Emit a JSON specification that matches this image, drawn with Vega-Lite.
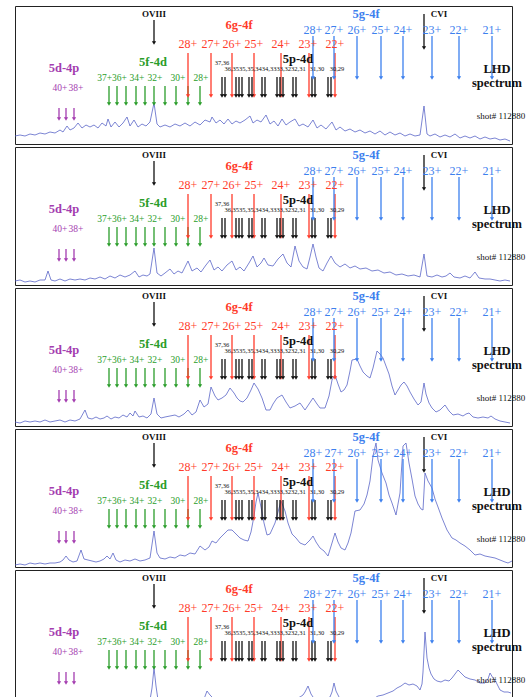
{
"$schema":"https://vega.github.io/schema/vega-lite/v6.json",
"padding":{"left":12,"top":5,"right":0,"bottom":0},
"config":{"view":{"stroke":"#222","strokeWidth":1},"font":"Liberation Serif","text":{"font":"Liberation Serif","baseline":"middle","align":"center"}},
"spacing":1,
"datasets":{
"arrows":[
{"x":59,"top":36,"bot":25,"g":"purple"},{"x":66,"top":36,"bot":25,"g":"purple"},{"x":74,"top":36,"bot":25,"g":"purple"},
{"x":109,"top":58,"bot":40,"g":"green"},{"x":117,"top":58,"bot":40,"g":"green"},{"x":126,"top":58,"bot":40,"g":"green"},{"x":136,"top":58,"bot":40,"g":"green"},{"x":145,"top":58,"bot":40,"g":"green"},{"x":154,"top":58,"bot":40,"g":"green"},{"x":165,"top":58,"bot":40,"g":"green"},{"x":176,"top":58,"bot":40,"g":"green"},{"x":188,"top":58,"bot":40,"g":"green"},{"x":200,"top":58,"bot":40,"g":"green"},
{"x":154,"top":124,"bot":101,"g":"black"},
{"x":188,"top":91,"bot":48,"g":"red"},{"x":211,"top":91,"bot":48,"g":"red"},{"x":232,"top":91,"bot":48,"g":"red"},{"x":254,"top":91,"bot":48,"g":"red"},{"x":281,"top":91,"bot":48,"g":"red"},{"x":309,"top":91,"bot":48,"g":"red"},{"x":335,"top":91,"bot":48,"g":"red"},
{"x":222,"top":67,"bot":48,"g":"black"},{"x":225,"top":67,"bot":48,"g":"black"},{"x":236,"top":67,"bot":48,"g":"black"},{"x":239,"top":67,"bot":48,"g":"black"},{"x":242,"top":67,"bot":48,"g":"black"},{"x":249,"top":67,"bot":48,"g":"black"},{"x":252,"top":67,"bot":48,"g":"black"},{"x":262,"top":67,"bot":48,"g":"black"},{"x":265,"top":67,"bot":48,"g":"black"},{"x":277,"top":67,"bot":48,"g":"black"},{"x":280,"top":67,"bot":48,"g":"black"},{"x":283,"top":67,"bot":48,"g":"black"},{"x":293,"top":67,"bot":48,"g":"black"},{"x":296,"top":67,"bot":48,"g":"black"},{"x":312,"top":67,"bot":48,"g":"black"},{"x":315,"top":67,"bot":48,"g":"black"},{"x":328,"top":67,"bot":48,"g":"black"},{"x":331,"top":67,"bot":48,"g":"black"},
{"x":313,"top":108,"bot":66,"g":"blue"},{"x":334,"top":108,"bot":66,"g":"blue"},{"x":357,"top":108,"bot":66,"g":"blue"},{"x":381,"top":108,"bot":66,"g":"blue"},{"x":403,"top":108,"bot":66,"g":"blue"},{"x":432,"top":108,"bot":66,"g":"blue"},{"x":459,"top":108,"bot":66,"g":"blue"},{"x":492,"top":108,"bot":66,"g":"blue"},
{"x":424,"top":130,"bot":96,"g":"black"}
],
"texts":[
{"t":"OVIII","x":154,"y":130,"g":"black","k":"ion"},
{"t":"CVI","x":439,"y":130,"g":"black","k":"ion"},
{"t":"6g-4f","x":239,"y":119,"g":"red","k":"band"},
{"t":"5f-4d","x":153,"y":82,"g":"green","k":"band"},
{"t":"5d-4p","x":64,"y":76,"g":"purple","k":"band"},
{"t":"5g-4f","x":366,"y":130,"g":"blue","k":"band"},
{"t":"5p-4d","x":298,"y":85,"g":"black","k":"band"},
{"t":"LHD","x":497,"y":75,"g":"black","k":"band"},
{"t":"spectrum","x":497,"y":61,"g":"black","k":"band"},
{"t":"28+","x":188,"y":100,"g":"red","k":"big"},{"t":"27+","x":211,"y":100,"g":"red","k":"big"},{"t":"26+","x":232,"y":100,"g":"red","k":"big"},{"t":"25+","x":254,"y":100,"g":"red","k":"big"},{"t":"24+","x":281,"y":100,"g":"red","k":"big"},{"t":"23+","x":308,"y":100,"g":"red","k":"big"},{"t":"22+","x":335,"y":100,"g":"red","k":"big"},
{"t":"28+","x":313,"y":114,"g":"blue","k":"big"},{"t":"27+","x":334,"y":114,"g":"blue","k":"big"},{"t":"26+","x":357,"y":114,"g":"blue","k":"big"},{"t":"25+","x":381,"y":114,"g":"blue","k":"big"},{"t":"24+","x":403,"y":114,"g":"blue","k":"big"},{"t":"23+","x":432,"y":114,"g":"blue","k":"big"},{"t":"22+","x":459,"y":114,"g":"blue","k":"big"},{"t":"21+","x":492,"y":114,"g":"blue","k":"big"},
{"t":"37+36+","x":112,"y":66,"g":"green","k":"mid"},{"t":"34+","x":137,"y":66,"g":"green","k":"mid"},{"t":"32+","x":155,"y":66,"g":"green","k":"mid"},{"t":"30+","x":178,"y":66,"g":"green","k":"mid"},{"t":"28+","x":201,"y":66,"g":"green","k":"mid"},
{"t":"40+","x":60,"y":56,"g":"purple","k":"mid"},{"t":"38+","x":76,"y":56,"g":"purple","k":"mid"},
{"t":"37,36","x":222,"y":81,"g":"black","k":"small"},{"t":"36,3535,35,3434,3333,3232,31","x":265,"y":75,"g":"black","k":"small"},{"t":"31,30","x":317,"y":75,"g":"black","k":"small"},{"t":"30,29","x":337,"y":75,"g":"black","k":"small"},
{"t":"shot# 112880","x":501,"y":28,"g":"black","k":"shot"}
],
"spec":[
{"p":1,"x":15,"y":8},{"p":1,"x":20,"y":9},{"p":1,"x":25,"y":8},{"p":1,"x":30,"y":10},{"p":1,"x":35,"y":9},{"p":1,"x":40,"y":11},{"p":1,"x":45,"y":10},{"p":1,"x":50,"y":12},{"p":1,"x":55,"y":11},{"p":1,"x":60,"y":14},{"p":1,"x":63,"y":12},{"p":1,"x":67,"y":18},{"p":1,"x":70,"y":14},{"p":1,"x":74,"y":16},{"p":1,"x":78,"y":21},{"p":1,"x":82,"y":16},{"p":1,"x":86,"y":19},{"p":1,"x":90,"y":17},{"p":1,"x":94,"y":19},{"p":1,"x":98,"y":16},{"p":1,"x":102,"y":21},{"p":1,"x":106,"y":18},{"p":1,"x":108,"y":25},{"p":1,"x":111,"y":17},{"p":1,"x":115,"y":22},{"p":1,"x":119,"y":17},{"p":1,"x":123,"y":21},{"p":1,"x":127,"y":27},{"p":1,"x":130,"y":18},{"p":1,"x":134,"y":24},{"p":1,"x":138,"y":17},{"p":1,"x":142,"y":20},{"p":1,"x":146,"y":18},{"p":1,"x":150,"y":22},{"p":1,"x":154,"y":41},{"p":1,"x":157,"y":20},{"p":1,"x":160,"y":17},{"p":1,"x":165,"y":19},{"p":1,"x":170,"y":17},{"p":1,"x":175,"y":20},{"p":1,"x":180,"y":18},{"p":1,"x":185,"y":21},{"p":1,"x":190,"y":18},{"p":1,"x":195,"y":22},{"p":1,"x":200,"y":19},{"p":1,"x":205,"y":24},{"p":1,"x":210,"y":22},{"p":1,"x":212,"y":27},{"p":1,"x":216,"y":21},{"p":1,"x":220,"y":24},{"p":1,"x":224,"y":20},{"p":1,"x":228,"y":25},{"p":1,"x":232,"y":20},{"p":1,"x":236,"y":23},{"p":1,"x":240,"y":21},{"p":1,"x":245,"y":24},{"p":1,"x":250,"y":28},{"p":1,"x":253,"y":21},{"p":1,"x":257,"y":24},{"p":1,"x":261,"y":22},{"p":1,"x":266,"y":29},{"p":1,"x":270,"y":20},{"p":1,"x":274,"y":23},{"p":1,"x":278,"y":18},{"p":1,"x":282,"y":25},{"p":1,"x":286,"y":19},{"p":1,"x":290,"y":22},{"p":1,"x":295,"y":25},{"p":1,"x":299,"y":18},{"p":1,"x":303,"y":20},{"p":1,"x":308,"y":17},{"p":1,"x":313,"y":24},{"p":1,"x":317,"y":16},{"p":1,"x":321,"y":19},{"p":1,"x":326,"y":15},{"p":1,"x":332,"y":22},{"p":1,"x":336,"y":14},{"p":1,"x":340,"y":17},{"p":1,"x":345,"y":13},{"p":1,"x":350,"y":15},{"p":1,"x":355,"y":12},{"p":1,"x":360,"y":14},{"p":1,"x":365,"y":11},{"p":1,"x":370,"y":13},{"p":1,"x":375,"y":10},{"p":1,"x":380,"y":13},{"p":1,"x":385,"y":9},{"p":1,"x":390,"y":12},{"p":1,"x":395,"y":9},{"p":1,"x":400,"y":11},{"p":1,"x":405,"y":8},{"p":1,"x":410,"y":10},{"p":1,"x":415,"y":8},{"p":1,"x":420,"y":9},{"p":1,"x":424,"y":38},{"p":1,"x":427,"y":10},{"p":1,"x":430,"y":8},{"p":1,"x":435,"y":10},{"p":1,"x":440,"y":7},{"p":1,"x":445,"y":9},{"p":1,"x":450,"y":7},{"p":1,"x":455,"y":10},{"p":1,"x":460,"y":6},{"p":1,"x":465,"y":8},{"p":1,"x":470,"y":6},{"p":1,"x":475,"y":8},{"p":1,"x":480,"y":5},{"p":1,"x":485,"y":7},{"p":1,"x":490,"y":5},{"p":1,"x":495,"y":6},{"p":1,"x":500,"y":4},{"p":1,"x":505,"y":5},{"p":1,"x":510,"y":3},
{"p":2,"x":15,"y":4},{"p":2,"x":20,"y":5},{"p":2,"x":25,"y":3},{"p":2,"x":30,"y":4},{"p":2,"x":35,"y":3},{"p":2,"x":40,"y":5},{"p":2,"x":45,"y":5},{"p":2,"x":48,"y":14},{"p":2,"x":51,"y":5},{"p":2,"x":55,"y":4},{"p":2,"x":60,"y":6},{"p":2,"x":65,"y":4},{"p":2,"x":70,"y":6},{"p":2,"x":75,"y":5},{"p":2,"x":80,"y":6},{"p":2,"x":85,"y":5},{"p":2,"x":90,"y":7},{"p":2,"x":95,"y":6},{"p":2,"x":100,"y":8},{"p":2,"x":105,"y":6},{"p":2,"x":110,"y":9},{"p":2,"x":115,"y":7},{"p":2,"x":120,"y":10},{"p":2,"x":125,"y":8},{"p":2,"x":130,"y":10},{"p":2,"x":135,"y":14},{"p":2,"x":139,"y":8},{"p":2,"x":143,"y":10},{"p":2,"x":147,"y":9},{"p":2,"x":150,"y":11},{"p":2,"x":154,"y":37},{"p":2,"x":157,"y":12},{"p":2,"x":161,"y":9},{"p":2,"x":165,"y":12},{"p":2,"x":170,"y":16},{"p":2,"x":174,"y":11},{"p":2,"x":178,"y":14},{"p":2,"x":182,"y":12},{"p":2,"x":188,"y":24},{"p":2,"x":192,"y":14},{"p":2,"x":197,"y":17},{"p":2,"x":201,"y":13},{"p":2,"x":206,"y":20},{"p":2,"x":210,"y":25},{"p":2,"x":214,"y":15},{"p":2,"x":218,"y":18},{"p":2,"x":222,"y":14},{"p":2,"x":227,"y":20},{"p":2,"x":232,"y":24},{"p":2,"x":236,"y":15},{"p":2,"x":240,"y":18},{"p":2,"x":244,"y":14},{"p":2,"x":249,"y":22},{"p":2,"x":253,"y":29},{"p":2,"x":257,"y":18},{"p":2,"x":261,"y":22},{"p":2,"x":264,"y":27},{"p":2,"x":268,"y":20},{"p":2,"x":273,"y":19},{"p":2,"x":278,"y":26},{"p":2,"x":283,"y":31},{"p":2,"x":287,"y":22},{"p":2,"x":291,"y":18},{"p":2,"x":295,"y":39},{"p":2,"x":299,"y":24},{"p":2,"x":303,"y":18},{"p":2,"x":307,"y":16},{"p":2,"x":310,"y":28},{"p":2,"x":313,"y":41},{"p":2,"x":316,"y":28},{"p":2,"x":319,"y":17},{"p":2,"x":323,"y":14},{"p":2,"x":327,"y":22},{"p":2,"x":331,"y":29},{"p":2,"x":335,"y":22},{"p":2,"x":340,"y":18},{"p":2,"x":345,"y":21},{"p":2,"x":350,"y":17},{"p":2,"x":355,"y":19},{"p":2,"x":360,"y":16},{"p":2,"x":366,"y":17},{"p":2,"x":372,"y":14},{"p":2,"x":378,"y":15},{"p":2,"x":384,"y":12},{"p":2,"x":390,"y":13},{"p":2,"x":396,"y":10},{"p":2,"x":402,"y":11},{"p":2,"x":408,"y":9},{"p":2,"x":414,"y":10},{"p":2,"x":420,"y":8},{"p":2,"x":424,"y":31},{"p":2,"x":427,"y":9},{"p":2,"x":432,"y":8},{"p":2,"x":437,"y":10},{"p":2,"x":442,"y":8},{"p":2,"x":446,"y":9},{"p":2,"x":450,"y":12},{"p":2,"x":454,"y":8},{"p":2,"x":460,"y":7},{"p":2,"x":465,"y":9},{"p":2,"x":470,"y":7},{"p":2,"x":475,"y":13},{"p":2,"x":479,"y":7},{"p":2,"x":485,"y":6},{"p":2,"x":490,"y":6},{"p":2,"x":495,"y":5},{"p":2,"x":500,"y":4},{"p":2,"x":505,"y":5},{"p":2,"x":510,"y":4},
{"p":3,"x":15,"y":4},{"p":3,"x":20,"y":3},{"p":3,"x":25,"y":5},{"p":3,"x":30,"y":4},{"p":3,"x":35,"y":5},{"p":3,"x":40,"y":4},{"p":3,"x":45,"y":6},{"p":3,"x":50,"y":4},{"p":3,"x":55,"y":5},{"p":3,"x":60,"y":6},{"p":3,"x":65,"y":4},{"p":3,"x":70,"y":6},{"p":3,"x":75,"y":5},{"p":3,"x":80,"y":7},{"p":3,"x":85,"y":16},{"p":3,"x":88,"y":8},{"p":3,"x":92,"y":7},{"p":3,"x":96,"y":9},{"p":3,"x":100,"y":7},{"p":3,"x":104,"y":8},{"p":3,"x":107,"y":10},{"p":3,"x":111,"y":7},{"p":3,"x":115,"y":9},{"p":3,"x":119,"y":8},{"p":3,"x":123,"y":11},{"p":3,"x":127,"y":9},{"p":3,"x":130,"y":13},{"p":3,"x":133,"y":10},{"p":3,"x":135,"y":15},{"p":3,"x":139,"y":9},{"p":3,"x":143,"y":10},{"p":3,"x":147,"y":8},{"p":3,"x":151,"y":12},{"p":3,"x":154,"y":28},{"p":3,"x":157,"y":12},{"p":3,"x":161,"y":8},{"p":3,"x":165,"y":9},{"p":3,"x":170,"y":10},{"p":3,"x":175,"y":11},{"p":3,"x":179,"y":9},{"p":3,"x":184,"y":12},{"p":3,"x":188,"y":16},{"p":3,"x":192,"y":11},{"p":3,"x":196,"y":14},{"p":3,"x":200,"y":26},{"p":3,"x":204,"y":19},{"p":3,"x":208,"y":22},{"p":3,"x":211,"y":39},{"p":3,"x":215,"y":30},{"p":3,"x":218,"y":26},{"p":3,"x":222,"y":28},{"p":3,"x":226,"y":31},{"p":3,"x":230,"y":38},{"p":3,"x":234,"y":33},{"p":3,"x":237,"y":28},{"p":3,"x":240,"y":25},{"p":3,"x":243,"y":24},{"p":3,"x":247,"y":28},{"p":3,"x":251,"y":36},{"p":3,"x":254,"y":43},{"p":3,"x":258,"y":37},{"p":3,"x":262,"y":28},{"p":3,"x":266,"y":16},{"p":3,"x":270,"y":16},{"p":3,"x":273,"y":22},{"p":3,"x":277,"y":28},{"p":3,"x":282,"y":31},{"p":3,"x":286,"y":24},{"p":3,"x":290,"y":18},{"p":3,"x":295,"y":20},{"p":3,"x":300,"y":23},{"p":3,"x":305,"y":16},{"p":3,"x":309,"y":22},{"p":3,"x":313,"y":28},{"p":3,"x":317,"y":22},{"p":3,"x":320,"y":18},{"p":3,"x":325,"y":18},{"p":3,"x":329,"y":30},{"p":3,"x":332,"y":46},{"p":3,"x":335,"y":51},{"p":3,"x":338,"y":42},{"p":3,"x":341,"y":34},{"p":3,"x":344,"y":36},{"p":3,"x":347,"y":41},{"p":3,"x":350,"y":55},{"p":3,"x":352,"y":66},{"p":3,"x":357,"y":67},{"p":3,"x":360,"y":60},{"p":3,"x":363,"y":54},{"p":3,"x":367,"y":50},{"p":3,"x":370,"y":48},{"p":3,"x":373,"y":58},{"p":3,"x":377,"y":75},{"p":3,"x":380,"y":72},{"p":3,"x":383,"y":68},{"p":3,"x":386,"y":60},{"p":3,"x":389,"y":52},{"p":3,"x":392,"y":40},{"p":3,"x":395,"y":31},{"p":3,"x":398,"y":36},{"p":3,"x":401,"y":41},{"p":3,"x":404,"y":44},{"p":3,"x":407,"y":40},{"p":3,"x":410,"y":34},{"p":3,"x":414,"y":27},{"p":3,"x":418,"y":21},{"p":3,"x":421,"y":24},{"p":3,"x":424,"y":43},{"p":3,"x":426,"y":32},{"p":3,"x":429,"y":23},{"p":3,"x":432,"y":18},{"p":3,"x":436,"y":14},{"p":3,"x":440,"y":16},{"p":3,"x":445,"y":21},{"p":3,"x":449,"y":15},{"p":3,"x":453,"y":11},{"p":3,"x":458,"y":12},{"p":3,"x":463,"y":10},{"p":3,"x":466,"y":12},{"p":3,"x":469,"y":13},{"p":3,"x":473,"y":9},{"p":3,"x":478,"y":8},{"p":3,"x":483,"y":9},{"p":3,"x":488,"y":8},{"p":3,"x":491,"y":10},{"p":3,"x":495,"y":7},{"p":3,"x":500,"y":5},{"p":3,"x":505,"y":4},{"p":3,"x":510,"y":3},
{"p":4,"x":15,"y":2},{"p":4,"x":20,"y":3},{"p":4,"x":25,"y":2},{"p":4,"x":30,"y":4},{"p":4,"x":35,"y":3},{"p":4,"x":40,"y":4},{"p":4,"x":45,"y":3},{"p":4,"x":50,"y":4},{"p":4,"x":55,"y":4},{"p":4,"x":60,"y":5},{"p":4,"x":63,"y":7},{"p":4,"x":66,"y":11},{"p":4,"x":69,"y":7},{"p":4,"x":73,"y":5},{"p":4,"x":77,"y":6},{"p":4,"x":81,"y":17},{"p":4,"x":84,"y":8},{"p":4,"x":88,"y":7},{"p":4,"x":92,"y":6},{"p":4,"x":96,"y":5},{"p":4,"x":100,"y":6},{"p":4,"x":104,"y":8},{"p":4,"x":107,"y":11},{"p":4,"x":110,"y":8},{"p":4,"x":113,"y":14},{"p":4,"x":116,"y":7},{"p":4,"x":120,"y":5},{"p":4,"x":125,"y":7},{"p":4,"x":130,"y":6},{"p":4,"x":135,"y":8},{"p":4,"x":140,"y":6},{"p":4,"x":145,"y":7},{"p":4,"x":150,"y":9},{"p":4,"x":154,"y":36},{"p":4,"x":157,"y":14},{"p":4,"x":160,"y":9},{"p":4,"x":165,"y":8},{"p":4,"x":170,"y":10},{"p":4,"x":175,"y":9},{"p":4,"x":180,"y":12},{"p":4,"x":185,"y":11},{"p":4,"x":190,"y":14},{"p":4,"x":195,"y":13},{"p":4,"x":200,"y":21},{"p":4,"x":205,"y":17},{"p":4,"x":209,"y":20},{"p":4,"x":212,"y":26},{"p":4,"x":216,"y":24},{"p":4,"x":220,"y":29},{"p":4,"x":224,"y":33},{"p":4,"x":228,"y":37},{"p":4,"x":232,"y":37},{"p":4,"x":236,"y":33},{"p":4,"x":240,"y":29},{"p":4,"x":244,"y":27},{"p":4,"x":248,"y":26},{"p":4,"x":251,"y":35},{"p":4,"x":254,"y":51},{"p":4,"x":256,"y":65},{"p":4,"x":258,"y":74},{"p":4,"x":261,"y":60},{"p":4,"x":264,"y":44},{"p":4,"x":267,"y":32},{"p":4,"x":270,"y":33},{"p":4,"x":275,"y":44},{"p":4,"x":278,"y":55},{"p":4,"x":281,"y":66},{"p":4,"x":285,"y":56},{"p":4,"x":288,"y":44},{"p":4,"x":292,"y":33},{"p":4,"x":296,"y":29},{"p":4,"x":300,"y":24},{"p":4,"x":305,"y":22},{"p":4,"x":310,"y":27},{"p":4,"x":313,"y":31},{"p":4,"x":316,"y":25},{"p":4,"x":320,"y":19},{"p":4,"x":324,"y":16},{"p":4,"x":328,"y":11},{"p":4,"x":332,"y":24},{"p":4,"x":335,"y":34},{"p":4,"x":338,"y":25},{"p":4,"x":341,"y":19},{"p":4,"x":345,"y":17},{"p":4,"x":348,"y":24},{"p":4,"x":351,"y":34},{"p":4,"x":355,"y":56},{"p":4,"x":360,"y":57},{"p":4,"x":364,"y":63},{"p":4,"x":367,"y":72},{"p":4,"x":370,"y":86},{"p":4,"x":373,"y":111},{"p":4,"x":376,"y":124},{"p":4,"x":378,"y":107},{"p":4,"x":382,"y":94},{"p":4,"x":386,"y":84},{"p":4,"x":389,"y":72},{"p":4,"x":392,"y":64},{"p":4,"x":396,"y":52},{"p":4,"x":400,"y":74},{"p":4,"x":403,"y":121},{"p":4,"x":406,"y":124},{"p":4,"x":409,"y":104},{"p":4,"x":412,"y":88},{"p":4,"x":415,"y":71},{"p":4,"x":418,"y":63},{"p":4,"x":421,"y":58},{"p":4,"x":423,"y":57},{"p":4,"x":425,"y":94},{"p":4,"x":428,"y":86},{"p":4,"x":432,"y":79},{"p":4,"x":435,"y":68},{"p":4,"x":438,"y":60},{"p":4,"x":442,"y":49},{"p":4,"x":447,"y":37},{"p":4,"x":452,"y":29},{"p":4,"x":456,"y":27},{"p":4,"x":460,"y":24},{"p":4,"x":465,"y":21},{"p":4,"x":470,"y":17},{"p":4,"x":475,"y":12},{"p":4,"x":480,"y":13},{"p":4,"x":485,"y":11},{"p":4,"x":490,"y":10},{"p":4,"x":495,"y":9},{"p":4,"x":500,"y":7},{"p":4,"x":505,"y":5},{"p":4,"x":508,"y":4},{"p":4,"x":512,"y":6},
{"p":5,"x":15,"y":2},{"p":5,"x":20,"y":3},{"p":5,"x":25,"y":2},{"p":5,"x":30,"y":3},{"p":5,"x":35,"y":2},{"p":5,"x":40,"y":4},{"p":5,"x":45,"y":3},{"p":5,"x":50,"y":4},{"p":5,"x":55,"y":3},{"p":5,"x":60,"y":5},{"p":5,"x":63,"y":6},{"p":5,"x":65,"y":9},{"p":5,"x":67,"y":7},{"p":5,"x":70,"y":5},{"p":5,"x":75,"y":4},{"p":5,"x":80,"y":3},{"p":5,"x":85,"y":5},{"p":5,"x":90,"y":6},{"p":5,"x":95,"y":4},{"p":5,"x":100,"y":3},{"p":5,"x":104,"y":5},{"p":5,"x":108,"y":6},{"p":5,"x":111,"y":7},{"p":5,"x":113,"y":10},{"p":5,"x":116,"y":6},{"p":5,"x":120,"y":3},{"p":5,"x":125,"y":4},{"p":5,"x":130,"y":4},{"p":5,"x":135,"y":3},{"p":5,"x":140,"y":4},{"p":5,"x":145,"y":4},{"p":5,"x":150,"y":8},{"p":5,"x":152,"y":20},{"p":5,"x":154,"y":40},{"p":5,"x":156,"y":22},{"p":5,"x":158,"y":8},{"p":5,"x":162,"y":4},{"p":5,"x":165,"y":3},{"p":5,"x":170,"y":4},{"p":5,"x":175,"y":3},{"p":5,"x":180,"y":4},{"p":5,"x":185,"y":3},{"p":5,"x":190,"y":4},{"p":5,"x":195,"y":5},{"p":5,"x":200,"y":6},{"p":5,"x":204,"y":9},{"p":5,"x":207,"y":17},{"p":5,"x":210,"y":13},{"p":5,"x":213,"y":10},{"p":5,"x":216,"y":7},{"p":5,"x":220,"y":6},{"p":5,"x":225,"y":5},{"p":5,"x":230,"y":5},{"p":5,"x":235,"y":4},{"p":5,"x":240,"y":4},{"p":5,"x":245,"y":6},{"p":5,"x":250,"y":8},{"p":5,"x":255,"y":7},{"p":5,"x":260,"y":6},{"p":5,"x":265,"y":6},{"p":5,"x":270,"y":7},{"p":5,"x":275,"y":8},{"p":5,"x":280,"y":10},{"p":5,"x":285,"y":8},{"p":5,"x":290,"y":9},{"p":5,"x":295,"y":9},{"p":5,"x":300,"y":11},{"p":5,"x":303,"y":13},{"p":5,"x":305,"y":16},{"p":5,"x":308,"y":22},{"p":5,"x":311,"y":14},{"p":5,"x":315,"y":8},{"p":5,"x":320,"y":6},{"p":5,"x":325,"y":8},{"p":5,"x":330,"y":11},{"p":5,"x":332,"y":16},{"p":5,"x":334,"y":25},{"p":5,"x":336,"y":17},{"p":5,"x":339,"y":11},{"p":5,"x":343,"y":7},{"p":5,"x":348,"y":6},{"p":5,"x":353,"y":8},{"p":5,"x":358,"y":7},{"p":5,"x":363,"y":9},{"p":5,"x":368,"y":10},{"p":5,"x":373,"y":9},{"p":5,"x":378,"y":12},{"p":5,"x":383,"y":13},{"p":5,"x":388,"y":15},{"p":5,"x":393,"y":17},{"p":5,"x":397,"y":20},{"p":5,"x":401,"y":22},{"p":5,"x":405,"y":25},{"p":5,"x":409,"y":23},{"p":5,"x":413,"y":24},{"p":5,"x":417,"y":22},{"p":5,"x":420,"y":18},{"p":5,"x":422,"y":24},{"p":5,"x":423,"y":36},{"p":5,"x":425,"y":76},{"p":5,"x":427,"y":50},{"p":5,"x":429,"y":40},{"p":5,"x":431,"y":34},{"p":5,"x":434,"y":29},{"p":5,"x":437,"y":27},{"p":5,"x":441,"y":26},{"p":5,"x":445,"y":28},{"p":5,"x":449,"y":27},{"p":5,"x":452,"y":30},{"p":5,"x":455,"y":34},{"p":5,"x":458,"y":38},{"p":5,"x":461,"y":35},{"p":5,"x":465,"y":31},{"p":5,"x":470,"y":29},{"p":5,"x":475,"y":28},{"p":5,"x":480,"y":25},{"p":5,"x":485,"y":25},{"p":5,"x":488,"y":29},{"p":5,"x":490,"y":35},{"p":5,"x":493,"y":30},{"p":5,"x":496,"y":26},{"p":5,"x":500,"y":18},{"p":5,"x":504,"y":16},{"p":5,"x":508,"y":16},{"p":5,"x":511,"y":15}
]
},
"vconcat":[
{"width":497,"height":138,"layer":[
{"data":{"name":"spec"},"transform":[{"filter":"datum.p == 1"}],"mark":{"type":"line","color":"#5a66c8","strokeWidth":0.8},"encoding":{"x":{"field":"x","type":"quantitative","scale":{"domain":[15,512],"nice":false,"zero":false},"axis":null},"y":{"field":"y","type":"quantitative","scale":{"domain":[0,138],"nice":false},"axis":{"title":null,"labels":false,"domain":false,"grid":false,"ticks":true,"tickSize":3,"tickColor":"#888","values":[21,48,75,102,129]}}}},
{"data":{"name":"arrows"},"mark":{"type":"rule","strokeWidth":1.3},"encoding":{"x":{"field":"x","type":"quantitative","axis":null},"y":{"field":"top","type":"quantitative","axis":null},"y2":{"field":"bot"},"color":{"field":"g","type":"nominal","scale":{"domain":["black","red","blue","green","purple"],"range":["#111111","#ff3b2b","#3d80ee","#2a9d2a","#a43db0"]},"legend":null}}},
{"data":{"name":"arrows"},"mark":{"type":"point","shape":"triangle-down","filled":true,"size":18,"opacity":1},"encoding":{"x":{"field":"x","type":"quantitative","axis":null},"y":{"field":"bot","type":"quantitative","axis":null},"color":{"field":"g","type":"nominal","legend":null}}},
{"data":{"name":"texts"},"transform":[{"filter":"datum.k == 'ion'"}],"mark":{"type":"text","fontWeight":"bold","fontSize":9},"encoding":{"x":{"field":"x","type":"quantitative","axis":null},"y":{"field":"y","type":"quantitative","axis":null},"text":{"field":"t"},"color":{"field":"g","type":"nominal","legend":null}}},
{"data":{"name":"texts"},"transform":[{"filter":"datum.k == 'band'"}],"mark":{"type":"text","fontWeight":"bold","fontSize":12.5},"encoding":{"x":{"field":"x","type":"quantitative","axis":null},"y":{"field":"y","type":"quantitative","axis":null},"text":{"field":"t"},"color":{"field":"g","type":"nominal","legend":null}}},
{"data":{"name":"texts"},"transform":[{"filter":"datum.k == 'big'"}],"mark":{"type":"text","fontSize":12},"encoding":{"x":{"field":"x","type":"quantitative","axis":null},"y":{"field":"y","type":"quantitative","axis":null},"text":{"field":"t"},"color":{"field":"g","type":"nominal","legend":null}}},
{"data":{"name":"texts"},"transform":[{"filter":"datum.k == 'mid'"}],"mark":{"type":"text","fontSize":9.5},"encoding":{"x":{"field":"x","type":"quantitative","axis":null},"y":{"field":"y","type":"quantitative","axis":null},"text":{"field":"t"},"color":{"field":"g","type":"nominal","legend":null}}},
{"data":{"name":"texts"},"transform":[{"filter":"datum.k == 'small'"}],"mark":{"type":"text","fontSize":6.5},"encoding":{"x":{"field":"x","type":"quantitative","axis":null},"y":{"field":"y","type":"quantitative","axis":null},"text":{"field":"t"},"color":{"field":"g","type":"nominal","legend":null}}},
{"data":{"name":"texts"},"transform":[{"filter":"datum.k == 'shot'"}],"mark":{"type":"text","fontSize":9},"encoding":{"x":{"field":"x","type":"quantitative","axis":null},"y":{"field":"y","type":"quantitative","axis":null},"text":{"field":"t"},"color":{"field":"g","type":"nominal","legend":null}}}
]},
{"width":497,"height":138,"layer":[
{"data":{"name":"spec"},"transform":[{"filter":"datum.p == 2"}],"mark":{"type":"line","color":"#5a66c8","strokeWidth":0.8},"encoding":{"x":{"field":"x","type":"quantitative","scale":{"domain":[15,512],"nice":false,"zero":false},"axis":null},"y":{"field":"y","type":"quantitative","scale":{"domain":[0,138],"nice":false},"axis":{"title":null,"labels":false,"domain":false,"grid":false,"ticks":true,"tickSize":3,"tickColor":"#888","values":[21,48,75,102,129]}}}},
{"data":{"name":"arrows"},"mark":{"type":"rule","strokeWidth":1.3},"encoding":{"x":{"field":"x","type":"quantitative","axis":null},"y":{"field":"top","type":"quantitative","axis":null},"y2":{"field":"bot"},"color":{"field":"g","type":"nominal","scale":{"domain":["black","red","blue","green","purple"],"range":["#111111","#ff3b2b","#3d80ee","#2a9d2a","#a43db0"]},"legend":null}}},
{"data":{"name":"arrows"},"mark":{"type":"point","shape":"triangle-down","filled":true,"size":18,"opacity":1},"encoding":{"x":{"field":"x","type":"quantitative","axis":null},"y":{"field":"bot","type":"quantitative","axis":null},"color":{"field":"g","type":"nominal","legend":null}}},
{"data":{"name":"texts"},"transform":[{"filter":"datum.k == 'ion'"}],"mark":{"type":"text","fontWeight":"bold","fontSize":9},"encoding":{"x":{"field":"x","type":"quantitative","axis":null},"y":{"field":"y","type":"quantitative","axis":null},"text":{"field":"t"},"color":{"field":"g","type":"nominal","legend":null}}},
{"data":{"name":"texts"},"transform":[{"filter":"datum.k == 'band'"}],"mark":{"type":"text","fontWeight":"bold","fontSize":12.5},"encoding":{"x":{"field":"x","type":"quantitative","axis":null},"y":{"field":"y","type":"quantitative","axis":null},"text":{"field":"t"},"color":{"field":"g","type":"nominal","legend":null}}},
{"data":{"name":"texts"},"transform":[{"filter":"datum.k == 'big'"}],"mark":{"type":"text","fontSize":12},"encoding":{"x":{"field":"x","type":"quantitative","axis":null},"y":{"field":"y","type":"quantitative","axis":null},"text":{"field":"t"},"color":{"field":"g","type":"nominal","legend":null}}},
{"data":{"name":"texts"},"transform":[{"filter":"datum.k == 'mid'"}],"mark":{"type":"text","fontSize":9.5},"encoding":{"x":{"field":"x","type":"quantitative","axis":null},"y":{"field":"y","type":"quantitative","axis":null},"text":{"field":"t"},"color":{"field":"g","type":"nominal","legend":null}}},
{"data":{"name":"texts"},"transform":[{"filter":"datum.k == 'small'"}],"mark":{"type":"text","fontSize":6.5},"encoding":{"x":{"field":"x","type":"quantitative","axis":null},"y":{"field":"y","type":"quantitative","axis":null},"text":{"field":"t"},"color":{"field":"g","type":"nominal","legend":null}}},
{"data":{"name":"texts"},"transform":[{"filter":"datum.k == 'shot'"}],"mark":{"type":"text","fontSize":9},"encoding":{"x":{"field":"x","type":"quantitative","axis":null},"y":{"field":"y","type":"quantitative","axis":null},"text":{"field":"t"},"color":{"field":"g","type":"nominal","legend":null}}}
]},
{"width":497,"height":138,"layer":[
{"data":{"name":"spec"},"transform":[{"filter":"datum.p == 3"}],"mark":{"type":"line","color":"#5a66c8","strokeWidth":0.8},"encoding":{"x":{"field":"x","type":"quantitative","scale":{"domain":[15,512],"nice":false,"zero":false},"axis":null},"y":{"field":"y","type":"quantitative","scale":{"domain":[0,138],"nice":false},"axis":{"title":null,"labels":false,"domain":false,"grid":false,"ticks":true,"tickSize":3,"tickColor":"#888","values":[21,48,75,102,129]}}}},
{"data":{"name":"arrows"},"mark":{"type":"rule","strokeWidth":1.3},"encoding":{"x":{"field":"x","type":"quantitative","axis":null},"y":{"field":"top","type":"quantitative","axis":null},"y2":{"field":"bot"},"color":{"field":"g","type":"nominal","scale":{"domain":["black","red","blue","green","purple"],"range":["#111111","#ff3b2b","#3d80ee","#2a9d2a","#a43db0"]},"legend":null}}},
{"data":{"name":"arrows"},"mark":{"type":"point","shape":"triangle-down","filled":true,"size":18,"opacity":1},"encoding":{"x":{"field":"x","type":"quantitative","axis":null},"y":{"field":"bot","type":"quantitative","axis":null},"color":{"field":"g","type":"nominal","legend":null}}},
{"data":{"name":"texts"},"transform":[{"filter":"datum.k == 'ion'"}],"mark":{"type":"text","fontWeight":"bold","fontSize":9},"encoding":{"x":{"field":"x","type":"quantitative","axis":null},"y":{"field":"y","type":"quantitative","axis":null},"text":{"field":"t"},"color":{"field":"g","type":"nominal","legend":null}}},
{"data":{"name":"texts"},"transform":[{"filter":"datum.k == 'band'"}],"mark":{"type":"text","fontWeight":"bold","fontSize":12.5},"encoding":{"x":{"field":"x","type":"quantitative","axis":null},"y":{"field":"y","type":"quantitative","axis":null},"text":{"field":"t"},"color":{"field":"g","type":"nominal","legend":null}}},
{"data":{"name":"texts"},"transform":[{"filter":"datum.k == 'big'"}],"mark":{"type":"text","fontSize":12},"encoding":{"x":{"field":"x","type":"quantitative","axis":null},"y":{"field":"y","type":"quantitative","axis":null},"text":{"field":"t"},"color":{"field":"g","type":"nominal","legend":null}}},
{"data":{"name":"texts"},"transform":[{"filter":"datum.k == 'mid'"}],"mark":{"type":"text","fontSize":9.5},"encoding":{"x":{"field":"x","type":"quantitative","axis":null},"y":{"field":"y","type":"quantitative","axis":null},"text":{"field":"t"},"color":{"field":"g","type":"nominal","legend":null}}},
{"data":{"name":"texts"},"transform":[{"filter":"datum.k == 'small'"}],"mark":{"type":"text","fontSize":6.5},"encoding":{"x":{"field":"x","type":"quantitative","axis":null},"y":{"field":"y","type":"quantitative","axis":null},"text":{"field":"t"},"color":{"field":"g","type":"nominal","legend":null}}},
{"data":{"name":"texts"},"transform":[{"filter":"datum.k == 'shot'"}],"mark":{"type":"text","fontSize":9},"encoding":{"x":{"field":"x","type":"quantitative","axis":null},"y":{"field":"y","type":"quantitative","axis":null},"text":{"field":"t"},"color":{"field":"g","type":"nominal","legend":null}}}
]},
{"width":497,"height":138,"layer":[
{"data":{"name":"spec"},"transform":[{"filter":"datum.p == 4"}],"mark":{"type":"line","color":"#5a66c8","strokeWidth":0.8},"encoding":{"x":{"field":"x","type":"quantitative","scale":{"domain":[15,512],"nice":false,"zero":false},"axis":null},"y":{"field":"y","type":"quantitative","scale":{"domain":[0,138],"nice":false},"axis":{"title":null,"labels":false,"domain":false,"grid":false,"ticks":true,"tickSize":3,"tickColor":"#888","values":[21,48,75,102,129]}}}},
{"data":{"name":"arrows"},"mark":{"type":"rule","strokeWidth":1.3},"encoding":{"x":{"field":"x","type":"quantitative","axis":null},"y":{"field":"top","type":"quantitative","axis":null},"y2":{"field":"bot"},"color":{"field":"g","type":"nominal","scale":{"domain":["black","red","blue","green","purple"],"range":["#111111","#ff3b2b","#3d80ee","#2a9d2a","#a43db0"]},"legend":null}}},
{"data":{"name":"arrows"},"mark":{"type":"point","shape":"triangle-down","filled":true,"size":18,"opacity":1},"encoding":{"x":{"field":"x","type":"quantitative","axis":null},"y":{"field":"bot","type":"quantitative","axis":null},"color":{"field":"g","type":"nominal","legend":null}}},
{"data":{"name":"texts"},"transform":[{"filter":"datum.k == 'ion'"}],"mark":{"type":"text","fontWeight":"bold","fontSize":9},"encoding":{"x":{"field":"x","type":"quantitative","axis":null},"y":{"field":"y","type":"quantitative","axis":null},"text":{"field":"t"},"color":{"field":"g","type":"nominal","legend":null}}},
{"data":{"name":"texts"},"transform":[{"filter":"datum.k == 'band'"}],"mark":{"type":"text","fontWeight":"bold","fontSize":12.5},"encoding":{"x":{"field":"x","type":"quantitative","axis":null},"y":{"field":"y","type":"quantitative","axis":null},"text":{"field":"t"},"color":{"field":"g","type":"nominal","legend":null}}},
{"data":{"name":"texts"},"transform":[{"filter":"datum.k == 'big'"}],"mark":{"type":"text","fontSize":12},"encoding":{"x":{"field":"x","type":"quantitative","axis":null},"y":{"field":"y","type":"quantitative","axis":null},"text":{"field":"t"},"color":{"field":"g","type":"nominal","legend":null}}},
{"data":{"name":"texts"},"transform":[{"filter":"datum.k == 'mid'"}],"mark":{"type":"text","fontSize":9.5},"encoding":{"x":{"field":"x","type":"quantitative","axis":null},"y":{"field":"y","type":"quantitative","axis":null},"text":{"field":"t"},"color":{"field":"g","type":"nominal","legend":null}}},
{"data":{"name":"texts"},"transform":[{"filter":"datum.k == 'small'"}],"mark":{"type":"text","fontSize":6.5},"encoding":{"x":{"field":"x","type":"quantitative","axis":null},"y":{"field":"y","type":"quantitative","axis":null},"text":{"field":"t"},"color":{"field":"g","type":"nominal","legend":null}}},
{"data":{"name":"texts"},"transform":[{"filter":"datum.k == 'shot'"}],"mark":{"type":"text","fontSize":9},"encoding":{"x":{"field":"x","type":"quantitative","axis":null},"y":{"field":"y","type":"quantitative","axis":null},"text":{"field":"t"},"color":{"field":"g","type":"nominal","legend":null}}}
]},
{"width":497,"height":138,"layer":[
{"data":{"name":"spec"},"transform":[{"filter":"datum.p == 5"}],"mark":{"type":"line","color":"#5a66c8","strokeWidth":0.8},"encoding":{"x":{"field":"x","type":"quantitative","scale":{"domain":[15,512],"nice":false,"zero":false},"axis":null},"y":{"field":"y","type":"quantitative","scale":{"domain":[0,138],"nice":false},"axis":{"title":null,"labels":false,"domain":false,"grid":false,"ticks":true,"tickSize":3,"tickColor":"#888","values":[21,48,75,102,129]}}}},
{"data":{"name":"arrows"},"mark":{"type":"rule","strokeWidth":1.3},"encoding":{"x":{"field":"x","type":"quantitative","axis":null},"y":{"field":"top","type":"quantitative","axis":null},"y2":{"field":"bot"},"color":{"field":"g","type":"nominal","scale":{"domain":["black","red","blue","green","purple"],"range":["#111111","#ff3b2b","#3d80ee","#2a9d2a","#a43db0"]},"legend":null}}},
{"data":{"name":"arrows"},"mark":{"type":"point","shape":"triangle-down","filled":true,"size":18,"opacity":1},"encoding":{"x":{"field":"x","type":"quantitative","axis":null},"y":{"field":"bot","type":"quantitative","axis":null},"color":{"field":"g","type":"nominal","legend":null}}},
{"data":{"name":"texts"},"transform":[{"filter":"datum.k == 'ion'"}],"mark":{"type":"text","fontWeight":"bold","fontSize":9},"encoding":{"x":{"field":"x","type":"quantitative","axis":null},"y":{"field":"y","type":"quantitative","axis":null},"text":{"field":"t"},"color":{"field":"g","type":"nominal","legend":null}}},
{"data":{"name":"texts"},"transform":[{"filter":"datum.k == 'band'"}],"mark":{"type":"text","fontWeight":"bold","fontSize":12.5},"encoding":{"x":{"field":"x","type":"quantitative","axis":null},"y":{"field":"y","type":"quantitative","axis":null},"text":{"field":"t"},"color":{"field":"g","type":"nominal","legend":null}}},
{"data":{"name":"texts"},"transform":[{"filter":"datum.k == 'big'"}],"mark":{"type":"text","fontSize":12},"encoding":{"x":{"field":"x","type":"quantitative","axis":null},"y":{"field":"y","type":"quantitative","axis":null},"text":{"field":"t"},"color":{"field":"g","type":"nominal","legend":null}}},
{"data":{"name":"texts"},"transform":[{"filter":"datum.k == 'mid'"}],"mark":{"type":"text","fontSize":9.5},"encoding":{"x":{"field":"x","type":"quantitative","axis":null},"y":{"field":"y","type":"quantitative","axis":null},"text":{"field":"t"},"color":{"field":"g","type":"nominal","legend":null}}},
{"data":{"name":"texts"},"transform":[{"filter":"datum.k == 'small'"}],"mark":{"type":"text","fontSize":6.5},"encoding":{"x":{"field":"x","type":"quantitative","axis":null},"y":{"field":"y","type":"quantitative","axis":null},"text":{"field":"t"},"color":{"field":"g","type":"nominal","legend":null}}},
{"data":{"name":"texts"},"transform":[{"filter":"datum.k == 'shot'"}],"mark":{"type":"text","fontSize":9},"encoding":{"x":{"field":"x","type":"quantitative","axis":null},"y":{"field":"y","type":"quantitative","axis":null},"text":{"field":"t"},"color":{"field":"g","type":"nominal","legend":null}}}
]}
]
}
